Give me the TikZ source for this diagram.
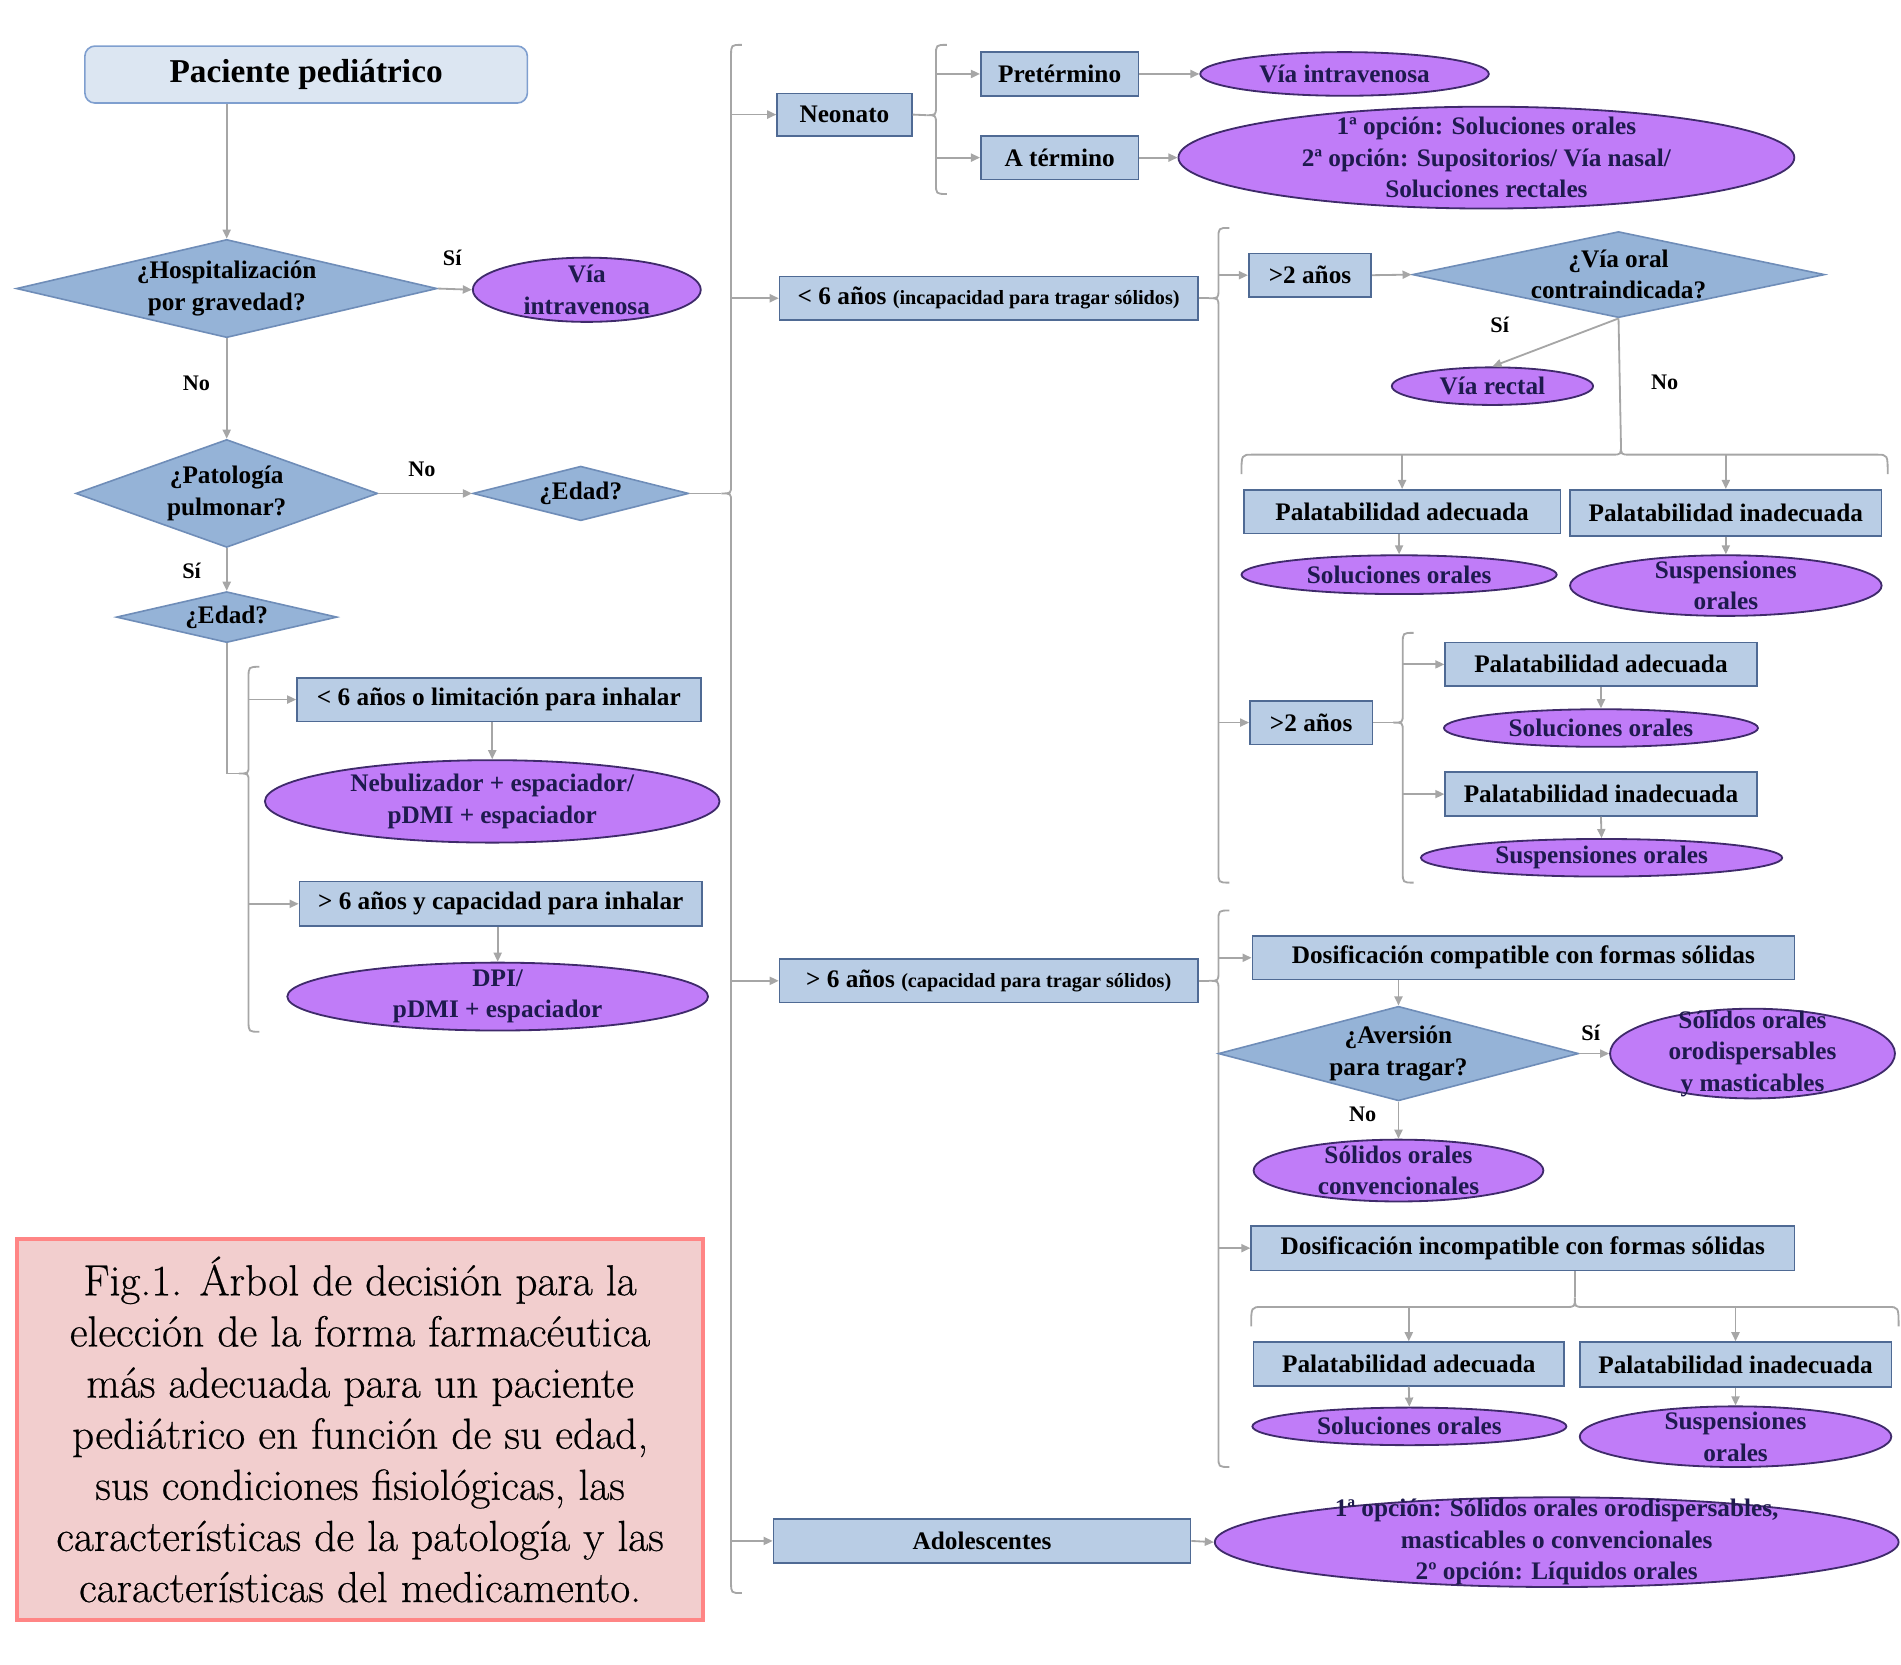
\documentclass[tikz,border=0pt]{standalone}
\usepackage{fontspec}
\newfontfamily\tnr{Liberation Serif}
\newfontfamily\capf{Latin Modern Roman}[FakeBold=0.5]
\usetikzlibrary{shapes.geometric,arrows.meta}
\definecolor{boxfill}{HTML}{B9CDE5}
\definecolor{boxdraw}{HTML}{4F6A94}
\definecolor{titlefill}{HTML}{DCE6F2}
\definecolor{titledraw}{HTML}{7F9FCF}
\definecolor{diafill}{HTML}{95B3D7}
\definecolor{diadraw}{HTML}{6F8DB8}
\definecolor{ellfill}{HTML}{C07CF8}
\definecolor{elldraw}{HTML}{3F2A6B}
\definecolor{elltext}{HTML}{1E1A4E}
\definecolor{cgray}{HTML}{A6A6A6}
\definecolor{capfill}{HTML}{F2CECE}
\definecolor{capdraw}{HTML}{FF8585}
\newcommand\bxf{\tnr\bfseries\fontsize{12.5pt}{15.6pt}\selectfont}
\newcommand\smf{\fontsize{10pt}{12pt}\selectfont}
% vertical brace: x, ytop, ycusp, ybottom (cusp points left)
\newcommand\vbr[4]{\draw[conn] ({#1+9},#2) .. controls (#1,#2) .. (#1,{#2+9}) -- (#1,{#3-7}) .. controls (#1,#3) .. ({#1-8},#3) .. controls (#1,#3) .. (#1,{#3+7}) -- (#1,{#4-9}) .. controls (#1,#4) .. ({#1+9},#4);}
% horizontal brace: y, xleft, xcusp, xright (cusp points up, ends go down)
\newcommand\hbr[4]{\draw[conn] (#2,{#1+16}) .. controls (#2,#1) .. ({#2+9},#1) -- ({#3-7},#1) .. controls (#3,#1) .. (#3,{#1-8}) .. controls (#3,#1) .. ({#3+7},#1) -- ({#4-9},#1) .. controls (#4,#1) .. (#4,{#1+16});}
\begin{document}
\begin{tikzpicture}[x=0.6pt,y=-0.6pt,
 sz/.style 2 args={minimum width=#1*0.6pt, minimum height=#2*0.6pt},
 conn/.style={draw=cgray, line width=0.9pt},
 arr/.style={conn, -{Triangle[length=4.5pt,width=4pt]}},
 box/.style={rectangle, draw=boxdraw, fill=boxfill, line width=0.8pt, inner sep=0pt, font=\bxf, align=center},
 dia/.style={diamond, draw=diadraw, fill=diafill, line width=0.8pt, inner xsep=0pt, inner ysep=-8pt, font=\bxf, align=center},
 ell/.style={ellipse, draw=elldraw, fill=ellfill, line width=0.9pt, inner xsep=0pt, inner ysep=-10pt, font=\bxf, text=elltext, align=center},
 lab/.style={font=\tnr\bfseries\fontsize{11pt}{13pt}\selectfont, fill=white, inner sep=1.5pt},
]
\useasboundingbox (0,0) rectangle (1568,1373);

% ---------- left column ----------
\node[box, rounded corners=5pt, fill=titlefill, draw=titledraw, sz={365}{47}, font=\tnr\bfseries\fontsize{16.5pt}{19pt}\selectfont] (pac) at (252.5,61.5) {Paciente pediátrico};
\node[dia, sz={347}{81}, aspect=4.28] (hosp) at (187,238) {¿Hospitalización\\por gravedad?};
\node[ell, sz={188}{53}] (iv1) at (484,239) {Vía\\intravenosa};
\node[dia, sz={249}{89}, aspect=2.8] (pulm) at (187,407) {¿Patología\\pulmonar?};
\node[dia, sz={178}{45}, aspect=3.96] (edadR) at (479,407) {¿Edad?};
\node[dia, sz={182}{42}, aspect=4.33] (edadL) at (187,509) {¿Edad?};

\draw[arr] (pac.south -| hosp.north) -- (hosp.north);
\draw[arr] (hosp.east) -- (iv1.west);
\draw[arr] (hosp.south) -- (pulm.north);
\draw[arr] (pulm.east) -- (edadR.west);
\draw[arr] (pulm.south) -- (edadL.north);

\node[lab] (l1) at (373,213) {Sí};
\node[lab] (l2) at (162,316) {No};
\node[lab] (l3) at (348,387) {No};
\node[lab] (l4) at (158,471) {Sí};

\vbr{205}{550}{638}{851}
\coordinate (cL) at (197,638);
\coordinate (xL) at (205,638);
\draw[conn] (edadL.south) |- (cL);

\node[box, sz={333}{36}] (inh1) at (411.5,577) {< 6 años o limitación para inhalar};
\node[ell, sz={375}{68}] (neb) at (406,661) {Nebulizador + espaciador/\\pDMI + espaciador};
\node[box, sz={332}{37}] (inh2) at (413,745.5) {> 6 años y capacidad para inhalar};
\node[ell, sz={347}{56}] (dpi) at (410.5,822) {DPI/\\pDMI + espaciador};
\draw[arr] (xL |- inh1.west) -- (inh1.west);
\draw[arr] (xL |- inh2.west) -- (inh2.west);
\draw[arr] (inh1.south -| neb.north) -- (neb.north);
\draw[arr] (inh2.south -| dpi.north) -- (dpi.north);

% ---------- main brace ----------
\vbr{603}{37}{407}{1314}
\coordinate (cM) at (595,407);
\coordinate (xM) at (603,407);
\draw[conn] (edadR.east) -- (cM);

\node[box, sz={111}{35}] (neo) at (696.5,94.5) {Neonato};
\node[box, sz={345}{36}] (lt6) at (815.5,246) {< 6 años {\smf (incapacidad para tragar sólidos)}};
\node[box, sz={345}{36}] (gt6) at (815.5,809) {> 6 años {\smf (capacidad para tragar sólidos)}};
\node[box, sz={344}{36}] (adol) at (810,1271) {Adolescentes};
\draw[arr] (xM |- neo.west) -- (neo.west);
\draw[arr] (xM |- lt6.west) -- (lt6.west);
\draw[arr] (xM |- gt6.west) -- (gt6.west);
\draw[arr] (xM |- adol.west) -- (adol.west);

% ---------- neonato ----------
\vbr{772}{37}{95}{160}
\coordinate (cN) at (764,95);
\coordinate (xN) at (772,95);
\draw[conn] (neo.east) -- (cN);
\node[box, sz={130}{36}] (pret) at (874,61) {Pretérmino};
\node[box, sz={130}{36}] (aterm) at (874,130) {A término};
\node[ell, sz={238}{36}] (iv2) at (1109,61) {Vía intravenosa};
\node[ell, sz={508}{84}] (neoell) at (1226,130) {1ª opción: Soluciones orales\\2ª opción: Supositorios/ Vía nasal/\\Soluciones rectales};
\draw[arr] (xN |- pret.west) -- (pret.west);
\draw[arr] (xN |- aterm.west) -- (aterm.west);
\draw[arr] (pret.east) -- (iv2.west);
\draw[arr] (aterm.east) -- (neoell.west);

% ---------- < 6 anos ----------
\vbr{1005}{188}{246}{728}
\coordinate (cA) at (997,246);
\coordinate (xA) at (1005,246);
\draw[conn] (lt6.east) -- (cA);
\node[box, sz={101}{36}] (gt2a) at (1080.5,227) {>2 años};
\node[dia, sz={340}{71}, aspect=4.79] (viaoral) at (1335,226.5) {¿Vía oral\\contraindicada?};
\node[ell, sz={166}{31}] (viarect) at (1231,318.5) {Vía rectal};
\draw[arr] (xA |- gt2a.west) -- (gt2a.west);
\draw[arr] (gt2a.east) -- (viaoral.west);
\draw[arr] (viaoral.south) -- (viarect.north);
\node[lab] (l5) at (1237,268) {Sí};
\node[lab] (l6) at (1373,315) {No};

\hbr{375}{1024}{1337}{1557}
\coordinate (cH1) at (1337,367);
\coordinate (yH1) at (1024,375);
\draw[conn] (viaoral.south) -- (cH1);
\node[box, sz={261}{36}] (pa1) at (1156.5,422) {Palatabilidad adecuada};
\node[box, sz={257}{38}] (pi1) at (1423.5,423) {Palatabilidad inadecuada};
\node[ell, sz={260}{32}] (so1) at (1154,474) {Soluciones orales};
\node[ell, sz={257}{50}] (su1) at (1423.5,483) {Suspensiones\\orales};
\draw[arr] (yH1 -| pa1.north) -- (pa1.north);
\draw[arr] (yH1 -| pi1.north) -- (pi1.north);
\draw[arr] (pa1.south -| so1.north) -- (so1.north);
\draw[arr] (pi1.south) -- (su1.north);

\node[box, sz={101}{36}] (gt2b) at (1081.5,596) {>2 años};
\draw[arr] (xA |- gt2b.west) -- (gt2b.west);
\vbr{1157}{522}{596}{728}
\coordinate (cB) at (1149,596);
\coordinate (xB) at (1157,596);
\draw[conn] (gt2b.east) -- (cB);
\node[box, sz={257}{36}] (pa2) at (1320.5,548) {Palatabilidad adecuada};
\node[ell, sz={259}{31}] (so2) at (1320.5,600.5) {Soluciones orales};
\node[box, sz={257}{36}] (pi2) at (1320.5,655) {Palatabilidad inadecuada};
\node[ell, sz={298}{31}] (su2) at (1321,707.5) {Suspensiones orales};
\draw[arr] (xB |- pa2.west) -- (pa2.west);
\draw[arr] (xB |- pi2.west) -- (pi2.west);
\draw[arr] (pa2.south) -- (so2.north);
\draw[arr] (pi2.south) -- (su2.north);

% ---------- > 6 anos ----------
\vbr{1005}{751}{809}{1210}
\coordinate (cC) at (997,809);
\coordinate (xC) at (1005,809);
\draw[conn] (gt6.east) -- (cC);
\node[box, sz={447}{36}] (dc) at (1256.5,790) {Dosificación compatible con formas sólidas};
\node[dia, sz={297}{78}, aspect=3.81] (avers) at (1153.5,869) {¿Aversión\\para tragar?};
\node[ell, sz={235}{74}] (orod) at (1445.5,869) {Sólidos orales\\orodispersables\\y masticables};
\node[ell, sz={239}{51}] (conv) at (1153.5,965.5) {Sólidos orales\\convencionales};
\node[box, sz={448}{37}] (di) at (1256,1029.5) {Dosificación incompatible con formas sólidas};
\draw[arr] (xC |- dc.west) -- (dc.west);
\draw[arr] (xC |- di.west) -- (di.west);
\draw[arr] (dc.south -| avers.north) -- (avers.north);
\draw[arr] (avers.east) -- (orod.west);
\draw[arr] (avers.south) -- (conv.north);
\node[lab] (l7) at (1312,852) {Sí};
\node[lab] (l8) at (1124,919) {No};

\hbr{1078}{1032}{1299}{1566}
\coordinate (cH2) at (1299,1070);
\coordinate (yH2) at (1032,1078);
\draw[conn] (di.south -| cH2) -- (cH2);
\node[box, sz={256}{36}] (pa3) at (1162,1125) {Palatabilidad adecuada};
\node[box, sz={257}{37}] (pi3) at (1431.5,1125.5) {Palatabilidad inadecuada};
\node[ell, sz={259}{31}] (so3) at (1162.5,1176.5) {Soluciones orales};
\node[ell, sz={257}{50}] (su3) at (1431.5,1185) {Suspensiones\\orales};
\draw[arr] (yH2 -| pa3.north) -- (pa3.north);
\draw[arr] (yH2 -| pi3.north) -- (pi3.north);
\draw[arr] (pa3.south) -- (so3.north);
\draw[arr] (pi3.south) -- (su3.north);

% ---------- adolescentes ----------
\node[ell, sz={564}{74}] (adolell) at (1284,1272) {1ª opción: Sólidos orales orodispersables,\\masticables o convencionales\\2º opción: Líquidos orales};
\draw[arr] (adol.east) -- (adolell.west);

% ---------- caption ----------
\node[draw=capdraw, fill=capfill, line width=2pt, sz={566}{314}, align=center, font=\capf\fontsize{21.5pt}{25.3pt}\selectfont] (cap) at (297,1179) {Fig.1. Árbol de decisión para la\\elección de la forma farmacéutica\\más adecuada para un paciente\\pediátrico en función de su edad,\\sus condiciones fisiológicas, las\\características de la patología y las\\características del medicamento.};
\end{tikzpicture}
\end{document}
